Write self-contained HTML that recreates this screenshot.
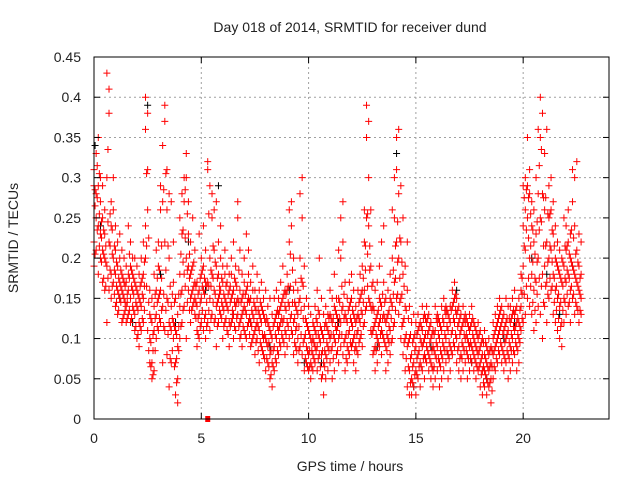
<!DOCTYPE html>
<html><head><meta charset="utf-8"><style>
body{margin:0;background:#fff}
svg{display:block;font-family:"Liberation Sans",sans-serif}
</style></head><body>
<svg id="chart" width="640" height="480">
<text x="350" y="32" text-anchor="middle" font-size="14" fill="#222">Day 018 of 2014, SRMTID for receiver dund</text>
<text x="350" y="471" text-anchor="middle" font-size="14" fill="#222">GPS time / hours</text>
<text x="18" y="238" text-anchor="middle" font-size="14" fill="#222" transform="rotate(-90 18 238)">SRMTID / TECUs</text>
<g id="grid"></g>
<g id="marks"></g>
<rect x="94" y="57" width="515" height="362" fill="none" stroke="#000" stroke-width="1"/>
<g id="ticks"></g>
</svg>
<script>
const xTicks=[0,5,10,15,20];
const yTicks=[0,0.05,0.1,0.15,0.2,0.25,0.3,0.35,0.4,0.45];
const yTickLabels=["0","0.05","0.1","0.15","0.2","0.25","0.3","0.35","0.4","0.45"];
const sampleTimes=[0.0,0.1,0.2,0.3,0.4,0.5,0.6,0.7,0.8,0.9,1.0,1.1,1.2,1.3,1.4,1.5,1.6,1.7,1.8,1.9,2.0,2.1,2.2,2.3,2.4,2.5,2.6,2.7,2.8,2.9,3.0,3.1,3.2,3.3,3.4,3.5,3.6,3.7,3.8,3.9,4.0,4.1,4.2,4.3,4.4,4.5,4.6,4.7,4.8,4.9,5.0,5.1,5.2,5.3,5.4,5.5,5.6,5.7,5.8,5.9,6.0,6.1,6.2,6.3,6.4,6.5,6.6,6.7,6.8,6.9,7.0,7.1,7.2,7.3,7.4,7.5,7.6,7.7,7.8,7.9,8.0,8.1,8.2,8.3,8.4,8.5,8.6,8.7,8.8,8.9,9.0,9.1,9.2,9.3,9.4,9.5,9.6,9.7,9.8,9.9,10.0,10.1,10.2,10.3,10.4,10.5,10.6,10.7,10.8,10.9,11.0,11.1,11.2,11.3,11.4,11.5,11.6,11.7,11.8,11.9,12.0,12.1,12.2,12.3,12.4,12.5,12.6,12.7,12.8,12.9,13.0,13.1,13.2,13.3,13.4,13.5,13.6,13.7,13.8,13.9,14.0,14.1,14.2,14.3,14.4,14.5,14.6,14.7,14.8,14.9,15.0,15.1,15.2,15.3,15.4,15.5,15.6,15.7,15.8,15.9,16.0,16.1,16.2,16.3,16.4,16.5,16.6,16.7,16.8,16.9,17.0,17.1,17.2,17.3,17.4,17.5,17.6,17.7,17.8,17.9,18.0,18.1,18.2,18.3,18.4,18.5,18.6,18.7,18.8,18.9,19.0,19.1,19.2,19.3,19.4,19.5,19.6,19.7,19.8,19.9,20.0,20.1,20.2,20.3,20.4,20.5,20.6,20.7,20.8,20.9,21.0,21.1,21.2,21.3,21.4,21.5,21.6,21.7,21.8,21.9,22.0,22.1,22.2,22.3,22.4,22.5,22.6,22.7];
const srmtidValues=[
[.19,.22,.29,.31],[.21,.25,.28,.33],[.18,.24,.29,.35],[.20,.23,.27,.30],[.17,.21,.25,.29],[.16,.20,.23,.26],[.12,.19,.30,.43],[.16,.22,.38,.41],[.15,.18,.24,.27],[.17,.20,.26,.30],
[.14,.18,.21,.24],[.13,.16,.19,.22],[.15,.17,.20,.23],[.12,.16,.18,.21],[.13,.15,.17,.20],[.12,.14,.17,.19],[.13,.16,.18,.24],[.12,.15,.19,.22],[.14,.16,.18,.20],[.11,.13,.17,.20],
[.10,.14,.16,.19],[.09,.12,.15,.18],[.11,.14,.17,.20],[.12,.15,.18,.22],[.20,.24,.36,.40],[.11,.26,.31,.38],[.07,.10,.13,.16],[.05,.07,.12,.15],[.06,.11,.14,.18],[.10,.13,.16,.21],
[.11,.15,.19,.22],[.12,.16,.26,.29],[.07,.14,.27,.34],[.11,.22,.37,.39],[.08,.15,.26,.31],[.04,.12,.20,.28],[.07,.11,.14,.27],[.10,.12,.17,.22],[.03,.07,.11,.15],[.02,.05,.09,.13],
[.10,.14,.18,.25],[.12,.16,.23,.28],[.14,.18,.27,.30],[.10,.20,.30,.33],[.16,.19,.23,.27],[.12,.15,.18,.22],[.14,.16,.19,.25],[.13,.15,.17,.21],[.09,.11,.14,.17],[.10,.13,.16,.23],
[.12,.15,.18,.20],[.11,.16,.19,.24],[.10,.13,.17,.21],[.12,.17,.31,.32],[.11,.15,.20,.29],[.13,.18,.25,.28],[.12,.16,.21,.26],[.09,.14,.19,.27],[.12,.15,.18,.22],[.13,.16,.20,.24],
[.10,.14,.17,.19],[.12,.15,.18,.21],[.11,.14,.17,.19],[.09,.12,.16,.18],[.12,.15,.18,.20],[.10,.13,.16,.22],[.11,.14,.17,.19],[.13,.15,.25,.27],[.10,.12,.16,.21],[.09,.13,.15,.18],
[.11,.14,.17,.20],[.10,.13,.16,.23],[.12,.15,.18,.21],[.09,.12,.15,.17],[.10,.13,.16,.19],[.08,.11,.14,.16],[.10,.12,.15,.18],[.07,.11,.13,.16],[.09,.12,.14,.17],[.08,.10,.13,.15],
[.06,.10,.12,.16],[.07,.09,.12,.14],[.05,.08,.11,.15],[.04,.07,.10,.13],[.06,.09,.12,.15],[.07,.10,.13,.16],[.08,.11,.13,.15],[.09,.12,.14,.17],[.10,.12,.15,.19],[.08,.11,.14,.16],
[.09,.12,.16,.18],[.10,.14,.22,.26],[.11,.13,.24,.27],[.08,.12,.16,.20],[.09,.11,.14,.17],[.07,.10,.13,.16],[.09,.15,.20,.28],[.08,.17,.25,.30],[.06,.10,.14,.19],[.07,.09,.12,.15],
[.06,.08,.11,.14],[.05,.07,.10,.13],[.06,.08,.10,.12],[.07,.09,.11,.14],[.06,.09,.12,.16],[.08,.10,.13,.20],[.05,.08,.11,.15],[.03,.07,.10,.13],[.05,.08,.12,.14],[.06,.09,.11,.13],
[.07,.10,.13,.16],[.05,.09,.12,.15],[.06,.10,.14,.18],[.08,.11,.13,.15],[.07,.10,.15,.21],[.09,.12,.20,.25],[.08,.14,.22,.27],[.06,.10,.13,.17],[.07,.09,.12,.15],[.08,.11,.14,.17],
[.09,.12,.15,.18],[.07,.10,.13,.16],[.06,.09,.12,.14],[.08,.11,.13,.16],[.10,.12,.15,.18],[.09,.13,.16,.19],[.12,.16,.22,.26],[.14,.25,.35,.39],[.15,.24,.30,.37],[.11,.14,.19,.26],
[.08,.11,.14,.17],[.06,.09,.12,.16],[.07,.10,.13,.17],[.09,.12,.15,.19],[.08,.11,.14,.22],[.10,.13,.17,.24],[.06,.09,.12,.15],[.07,.10,.13,.16],[.08,.11,.15,.18],[.10,.14,.20,.26],
[.12,.17,.25,.30],[.15,.22,.31,.35],[.13,.20,.28,.36],[.10,.15,.22,.29],[.08,.12,.18,.25],[.06,.10,.14,.19],[.04,.09,.16,.22],[.03,.06,.10,.14],[.03,.05,.08,.12],[.04,.07,.10,.13],
[.03,.06,.09,.12],[.05,.08,.11,.13],[.04,.07,.10,.12],[.06,.09,.11,.14],[.05,.08,.10,.13],[.07,.09,.12,.14],[.06,.08,.11,.13],[.05,.07,.10,.12],[.04,.06,.09,.11],[.05,.08,.11,.14],
[.06,.09,.12,.13],[.04,.07,.10,.12],[.05,.08,.11,.14],[.06,.09,.12,.15],[.07,.10,.13,.14],[.05,.08,.11,.13],[.06,.09,.12,.14],[.08,.11,.14,.16],[.09,.12,.15,.17],[.07,.10,.13,.15],
[.06,.09,.12,.14],[.05,.08,.11,.13],[.06,.09,.12,.14],[.07,.10,.12,.13],[.05,.08,.10,.12],[.06,.09,.11,.13],[.07,.09,.12,.14],[.06,.08,.10,.12],[.05,.07,.09,.11],[.06,.08,.10,.12],
[.04,.07,.09,.11],[.03,.06,.08,.10],[.04,.06,.08,.11],[.03,.05,.07,.09],[.04,.06,.08,.10],[.02,.05,.07,.09],[.05,.08,.10,.12],[.06,.09,.11,.13],[.07,.10,.12,.14],[.08,.11,.13,.15],
[.07,.09,.12,.14],[.06,.08,.11,.13],[.07,.10,.12,.15],[.05,.08,.11,.14],[.06,.09,.12,.14],[.07,.10,.13,.15],[.08,.11,.13,.16],[.06,.09,.12,.14],[.07,.10,.12,.15],[.11,.14,.16,.18],
[.12,.19,.24,.29],[.13,.21,.26,.30],[.15,.25,.29,.35],[.14,.20,.28,.31],[.13,.18,.24,.27],[.11,.16,.22,.26],[.12,.17,.23,.30],[.14,.20,.28,.36],[.13,.25,.35,.40],[.10,.18,.28,.38],
[.14,.19,.26,.33],[.12,.17,.22,.36],[.15,.20,.25,.29],[.16,.21,.26,.30],[.13,.18,.23,.27],[.12,.16,.20,.24],[.11,.15,.19,.22],[.10,.14,.18,.21],[.09,.12,.17,.20],[.12,.15,.19,.25],
[.13,.17,.21,.24],[.14,.18,.22,.26],[.12,.16,.20,.23],[.15,.19,.27,.31],[.13,.18,.24,.30],[.14,.17,.21,.32],[.12,.16,.19,.23],[.13,.15,.18,.22]];
const midTimes=[0.05,0.15,0.25,0.35,0.45,0.55,0.65,0.75,0.85,0.95,1.05,1.15,1.25,1.35,1.45,1.55,1.65,1.75,1.85,1.95,2.05,2.15,2.25,2.35,2.45,2.55,2.65,2.75,2.85,2.95,3.05,3.15,3.25,3.35,3.45,3.55,3.65,3.75,3.85,3.95,4.05,4.15,4.25,4.35,4.45,4.55,4.65,4.75,4.85,4.95,5.05,5.15,5.25,5.35,5.45,5.55,5.65,5.75,5.85,5.95,6.05,6.15,6.25,6.35,6.45,6.55,6.65,6.75,6.85,6.95,7.05,7.15,7.25,7.35,7.45,7.55,7.65,7.75,7.85,7.95,8.05,8.15,8.25,8.35,8.45,8.55,8.65,8.75,8.85,8.95,9.05,9.15,9.25,9.35,9.45,9.55,9.65,9.75,9.85,9.95,10.05,10.15,10.25,10.35,10.45,10.55,10.65,10.75,10.85,10.95,11.05,11.15,11.25,11.35,11.45,11.55,11.65,11.75,11.85,11.95,12.05,12.15,12.25,12.35,12.45,12.55,12.65,12.75,12.85,12.95,13.05,13.15,13.25,13.35,13.45,13.55,13.65,13.75,13.85,13.95,14.05,14.15,14.25,14.35,14.45,14.55,14.65,14.75,14.85,14.95,15.05,15.15,15.25,15.35,15.45,15.55,15.65,15.75,15.85,15.95,16.05,16.15,16.25,16.35,16.45,16.55,16.65,16.75,16.85,16.95,17.05,17.15,17.25,17.35,17.45,17.55,17.65,17.75,17.85,17.95,18.05,18.15,18.25,18.35,18.45,18.55,18.65,18.75,18.85,18.95,19.05,19.15,19.25,19.35,19.45,19.55,19.65,19.75,19.85,19.95,20.05,20.15,20.25,20.35,20.45,20.55,20.65,20.75,20.85,20.95,21.05,21.15,21.25,21.35,21.45,21.55,21.65,21.75,21.85,21.95,22.05,22.15,22.25,22.35,22.45,22.55,22.65];
const midValues=[
[.205,.265,.285],[.235,.275,.315],[.215,.255,.305],[.195,.225,.245],[.175,.205,.235],[.165,.195,.215],[.175,.245,.335],[.185,.215,.255],[.165,.205,.235],[.155,.185,.215],
[.145,.165,.195],[.135,.155,.175],[.145,.165,.185],[.125,.155,.175],[.135,.145,.165],[.125,.145,.155],[.135,.175,.205],[.125,.165,.185],[.135,.155,.175],[.115,.145,.165],
[.105,.135,.155],[.115,.145,.165],[.125,.155,.175],[.135,.165,.195],[.165,.215,.305],[.085,.145,.225],[.065,.095,.125],[.055,.085,.105],[.085,.125,.155],[.115,.145,.175],
[.125,.155,.185],[.135,.175,.215],[.115,.155,.285],[.135,.185,.305],[.105,.145,.215],[.075,.115,.165],[.085,.125,.155],[.065,.115,.145],[.045,.075,.105],[.085,.115,.155],
[.115,.155,.205],[.135,.195,.235],[.165,.225,.285],[.145,.185,.255],[.135,.175,.205],[.135,.155,.185],[.145,.165,.195],[.125,.145,.165],[.105,.125,.155],[.115,.145,.175],
[.135,.165,.185],[.125,.155,.175],[.115,.145,.165],[.135,.165,.255],[.125,.165,.185],[.145,.175,.215],[.125,.155,.195],[.115,.145,.175],[.135,.155,.165],[.125,.145,.175],
[.115,.135,.155],[.125,.145,.165],[.105,.135,.155],[.115,.145,.165],[.125,.135,.155],[.115,.145,.175],[.125,.145,.165],[.115,.145,.185],[.105,.125,.145],[.115,.135,.155],
[.105,.135,.155],[.115,.145,.165],[.105,.125,.145],[.095,.115,.135],[.105,.125,.145],[.095,.115,.135],[.085,.115,.135],[.095,.125,.145],[.085,.105,.135],[.075,.105,.125],
[.075,.095,.125],[.065,.095,.115],[.055,.085,.105],[.065,.085,.115],[.075,.105,.125],[.085,.115,.135],[.095,.115,.135],[.105,.125,.145],[.095,.125,.155],[.105,.135,.155],
[.115,.145,.165],[.125,.165,.205],[.105,.145,.185],[.095,.125,.145],[.085,.115,.135],[.085,.115,.145],[.105,.135,.175],[.095,.125,.165],[.075,.105,.125],[.065,.085,.115],
[.065,.085,.105],[.065,.085,.095],[.075,.095,.115],[.085,.105,.125],[.075,.105,.135],[.065,.095,.115],[.055,.085,.105],[.065,.085,.115],[.075,.095,.115],[.085,.105,.125],
[.085,.105,.125],[.075,.105,.125],[.095,.115,.135],[.085,.115,.125],[.105,.125,.145],[.105,.135,.165],[.095,.125,.155],[.075,.105,.125],[.085,.105,.135],[.095,.125,.145],
[.095,.115,.135],[.085,.105,.125],[.085,.105,.125],[.095,.125,.145],[.105,.135,.155],[.115,.145,.175],[.135,.185,.215],[.165,.205,.255],[.145,.185,.215],[.105,.135,.165],
[.085,.115,.135],[.085,.105,.125],[.095,.115,.135],[.105,.125,.145],[.105,.125,.155],[.095,.125,.145],[.085,.105,.125],[.095,.115,.135],[.095,.125,.145],[.115,.155,.185],
[.135,.175,.215],[.155,.195,.245],[.145,.175,.225],[.115,.155,.195],[.095,.125,.165],[.075,.105,.135],[.065,.095,.125],[.045,.075,.105],[.045,.065,.095],[.055,.085,.105],
[.055,.075,.105],[.065,.085,.115],[.065,.095,.115],[.075,.095,.125],[.075,.105,.125],[.085,.105,.125],[.075,.095,.115],[.065,.085,.105],[.065,.085,.105],[.075,.095,.125],
[.075,.105,.125],[.065,.085,.115],[.075,.095,.125],[.085,.105,.135],[.085,.115,.135],[.075,.095,.125],[.085,.105,.135],[.095,.125,.145],[.105,.135,.155],[.085,.115,.135],
[.075,.105,.125],[.075,.095,.115],[.085,.105,.125],[.085,.105,.125],[.075,.095,.115],[.075,.095,.115],[.085,.105,.125],[.075,.095,.115],[.065,.085,.105],[.065,.085,.105],
[.055,.075,.095],[.045,.065,.095],[.055,.075,.095],[.045,.065,.085],[.045,.065,.085],[.035,.065,.085],[.065,.085,.105],[.075,.095,.115],[.085,.105,.125],[.095,.115,.135],
[.085,.105,.125],[.075,.095,.115],[.085,.105,.125],[.075,.095,.125],[.085,.105,.125],[.085,.115,.135],[.095,.115,.135],[.085,.105,.125],[.095,.115,.135],[.125,.155,.175],
[.155,.215,.275],[.165,.235,.285],[.175,.225,.275],[.165,.215,.255],[.145,.195,.235],[.135,.175,.205],[.155,.195,.245],[.175,.235,.315],[.165,.245,.335],[.145,.215,.275],
[.165,.215,.275],[.155,.195,.255],[.175,.215,.255],[.165,.195,.235],[.145,.175,.215],[.135,.165,.195],[.125,.155,.185],[.115,.145,.175],[.135,.165,.195],[.145,.175,.215],
[.155,.185,.215],[.145,.175,.205],[.165,.195,.235],[.155,.185,.225],[.145,.175,.205],[.135,.165,.195],[.135,.155,.175]];
const blackTimes=[0.05,0.3,1.2,1.8,2.5,3.1,3.8,4.4,5.2,5.8,6.5,7.3,8.2,9.1,9.8,10.6,11.4,12.3,13.2,14.1,14.9,15.7,16.5,16.9,17.6,18.3,19.1,19.6,20.4,21.1,21.7,22.3];
const blackValues=[0.34,0.24,0.15,0.12,0.39,0.18,0.12,0.22,0.16,0.29,0.13,0.12,0.09,0.16,0.07,0.07,0.12,0.11,0.09,0.33,0.04,0.09,0.08,0.16,0.07,0.05,0.10,0.12,0.20,0.18,0.13,0.19];
const zeroTimes=[5.3];
const zeroValues=[0];

const NS="http://www.w3.org/2000/svg";
const X0=94,X1=609,Y0=419,Y1=57,XMAX=24,YMAX=0.45;
function sx(t){return X0+(X1-X0)*t/XMAX;}
function sy(v){return Y0-(Y0-Y1)*v/YMAX;}
function el(tag,attrs,parent){const e=document.createElementNS(NS,tag);for(const k in attrs)e.setAttribute(k,attrs[k]);parent.appendChild(e);return e;}
const grid=document.getElementById('grid'),ticks=document.getElementById('ticks'),marks=document.getElementById('marks');
xTicks.forEach(t=>{
  const x=sx(t);
  if(t>0){const g=el('line',{x1:x,x2:x,y1:Y1,y2:Y0,stroke:'#a0a0a0','stroke-dasharray':'2,3'},grid);
    
    }
  el('line',{x1:x,x2:x,y1:Y0,y2:Y0-6,stroke:'#000'},ticks);
  el('line',{x1:x,x2:x,y1:Y1,y2:Y1+6,stroke:'#000'},ticks);
  const lb=el('text',{x:x,y:Y0+24,'text-anchor':'middle','font-size':14,fill:'#222'},ticks);
  lb.textContent=String(t);
  
  
});
yTicks.forEach((v,i)=>{
  const y=sy(v);
  if(i>0&&i<yTicks.length-1){const g=el('line',{x1:X0,x2:X1,y1:y,y2:y,stroke:'#a0a0a0','stroke-dasharray':'2,3'},grid);
    
    }
  el('line',{x1:X0,x2:X0+6,y1:y,y2:y,stroke:'#000'},ticks);
  el('line',{x1:X1,x2:X1-6,y1:y,y2:y,stroke:'#000'},ticks);
  const lb=el('text',{x:X0-13,y:y+5,'text-anchor':'end','font-size':14,fill:'#222'},ticks);
  lb.textContent=yTickLabels[i];
  
  
});
function plus(t,v,color,name){
  const x=sx(t),y=sy(v);
  const p=el('path',{d:`M${x-3.5},${y}H${x+3.5}M${x},${y-3.5}V${y+3.5}`,stroke:color,'stroke-width':1,fill:'none'},marks);
  
  
}
blackTimes.forEach((t,i)=>plus(t,blackValues[i],'#000','point-black'));
sampleTimes.forEach((t,i)=>srmtidValues[i].forEach(v=>plus(t,v,'#f00','point-red')));
midTimes.forEach((t,i)=>midValues[i].forEach(v=>plus(t,v,'#f00','point-red')));
zeroTimes.forEach((t,i)=>{
  const r=el('rect',{x:sx(t)-2.5,y:sy(zeroValues[i])-3,width:5,height:6,fill:'#f00'},marks);
  
  
});
</script>
</body></html>
